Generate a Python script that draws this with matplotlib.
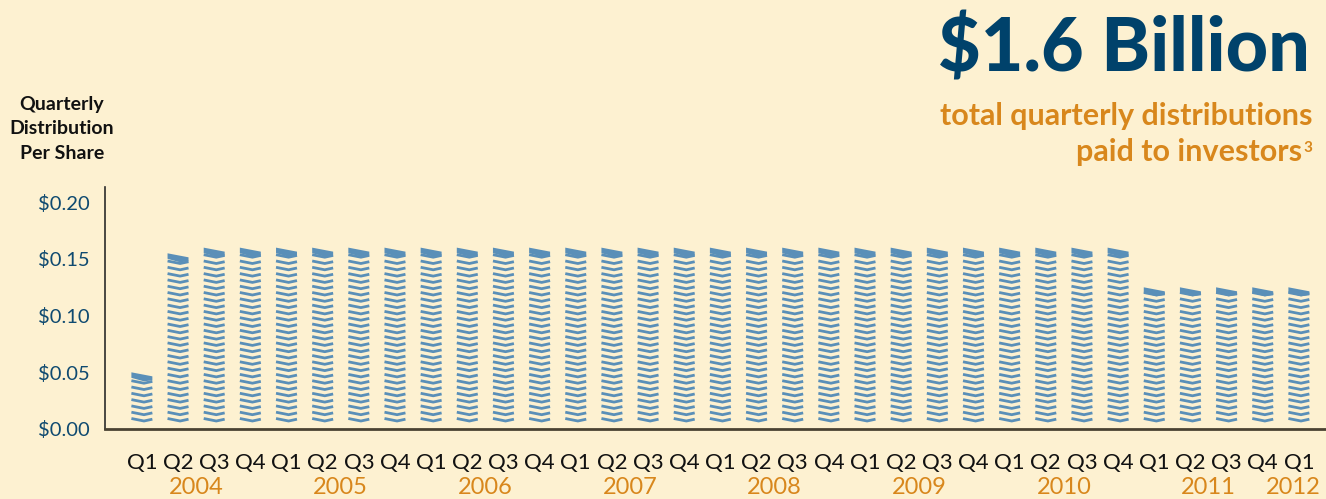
import matplotlib.pyplot as plt
import numpy as np
from matplotlib.collections import LineCollection
from matplotlib.patches import Polygon

# data
years = ['2004', '2005', '2006', '2007', '2008', '2009', '2010', '2011', '2012']
quarters = ['Q1', 'Q2', 'Q3', 'Q4'] * 8 + ['Q1']
values = [0.05, 0.155, 0.16, 0.16,
          0.16, 0.16, 0.16, 0.16,
          0.16, 0.16, 0.16, 0.16,
          0.16, 0.16, 0.16, 0.16,
          0.16, 0.16, 0.16, 0.16,
          0.16, 0.16, 0.16, 0.16,
          0.16, 0.16, 0.16, 0.16,
          0.125, 0.125, 0.125, 0.125,
          0.125]
yticks = [0.0, 0.05, 0.10, 0.15, 0.20]

bg = '#fdf1d1'
blue = '#5a8fb8'
navy = '#0f4a70'
orange = '#d8871c'

plt.rcParams['font.family'] = ['Lato', 'DejaVu Sans']

fig = plt.figure(figsize=(13.26, 4.99), dpi=100, facecolor=bg)
ax = fig.add_axes([105 / 1326, 70 / 499, 1221 / 1326, 242 / 499])
ax.set_facecolor(bg)

ax.set_xlim(-1.02, 32.75)
ax.set_ylim(0, 0.2135)

# pixel -> data units
px = 0.2135 / 242
w = 0.58
step = 6.3 * px
base = 8 * px

segs = []
for i, v in enumerate(values):
    xl, xr = i - w / 2, i + w / 2
    xm = xl + 0.6 * w
    y = base
    while y < v - 7 * px:
        segs.append([(xl, y + 2.5 * px), (xm, y), (xr, y + 1.8 * px)])
        y += step
    # top coin
    top = Polygon([(xl, v), (xr, v - 4 * px), (xr, v - 8 * px), (xm, v - 9 * px),
                   (xl, v - 5.5 * px)], closed=True, facecolor=blue, edgecolor='none')
    ax.add_patch(top)
lc = LineCollection(segs, colors=blue, linewidths=2.0, capstyle='butt')
ax.add_collection(lc)

# axes styling
for s in ['top', 'right']:
    ax.spines[s].set_visible(False)
ax.spines['left'].set_color('#2b2b2b')
ax.spines['left'].set_linewidth(1.2)
ax.spines['bottom'].set_color('#4a4232')
ax.spines['bottom'].set_linewidth(2)

ax.set_yticks(yticks)
ax.set_yticklabels(['$%.2f' % t for t in yticks], color=navy, fontsize=14.5)
ax.tick_params(axis='y', length=0, pad=11)
ax.set_xticks(range(len(values)))
ax.set_xticklabels(quarters, fontsize=16, color='#111111')
ax.tick_params(axis='x', length=0, pad=17)

# year labels
for k, yr in enumerate(years):
    xpos = 4 * k + 1.5 if k < 8 else 31.85
    ax.text(xpos, -0.0515, yr, ha='center', va='center', color=orange, fontsize=17,
            clip_on=False)

fig.text(62 / 1326, 1 - 129 / 499, 'Quarterly\nDistribution\nPer Share', ha='center',
         va='center', fontsize=14, fontweight='bold', color='#111111', linespacing=1.55)

fig.text(1310 / 1326, 1 - 49 / 499, '$1.6 Billion', ha='right', va='center',
         fontsize=53, fontweight='black', color='#00426b')
fig.text(1313 / 1326, 1 - 116 / 499, 'total quarterly distributions', ha='right',
         va='center', fontsize=22, fontweight='bold', color=orange)
fig.text(1302 / 1326, 1 - 152 / 499, 'paid to investors', ha='right',
         va='center', fontsize=22, fontweight='bold', color=orange)
fig.text(1303 / 1326, 1 - 148 / 499, '3', ha='left',
         va='center', fontsize=11, fontweight='bold', color=orange)

fig.savefig('out.png', dpi=100, facecolor=bg)
